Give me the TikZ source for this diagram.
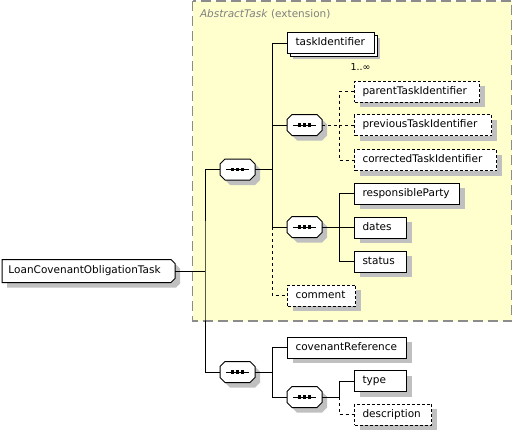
\documentclass[tikz,border=0pt]{standalone}
\usepackage{fontspec}
\setmainfont{DejaVu Sans}
\usetikzlibrary{shadows}
\definecolor{ybg}{RGB}{255,255,206}
\definecolor{shd}{RGB}{192,192,192}
\definecolor{dgray}{RGB}{128,128,128}
\definecolor{bgray}{RGB}{140,140,140}
\makeatletter
\newdimen\oxa \newdimen\oya \newdimen\oxb \newdimen\oyb \newdimen\ocut
\pgfkeys{/pgf/cut size/.initial=4pt}
\def\octinherit{%
  \inheritsavedanchors[from=rectangle]%
  \inheritanchorborder[from=rectangle]%
  \inheritanchor[from=rectangle]{center}%
  \inheritanchor[from=rectangle]{north}%
  \inheritanchor[from=rectangle]{south}%
  \inheritanchor[from=rectangle]{west}%
  \inheritanchor[from=rectangle]{east}%
  \inheritanchor[from=rectangle]{north west}%
  \inheritanchor[from=rectangle]{north east}%
  \inheritanchor[from=rectangle]{south west}%
  \inheritanchor[from=rectangle]{south east}%
  \inheritanchor[from=rectangle]{base}%
  \inheritanchor[from=rectangle]{mid}}
\pgfdeclareshape{octbox}{
  \octinherit
  \backgroundpath{
    \southwest \global\oxa=\pgf@x \global\oya=\pgf@y
    \northeast \global\oxb=\pgf@x \global\oyb=\pgf@y
    \pgfmathsetlength\ocut{\pgfkeysvalueof{/pgf/cut size}}
    \pgfpathmoveto{\pgfqpoint{\dimexpr\oxa+\ocut\relax}{\oya}}
    \pgfpathlineto{\pgfqpoint{\dimexpr\oxb-\ocut\relax}{\oya}}
    \pgfpathlineto{\pgfqpoint{\oxb}{\dimexpr\oya+\ocut\relax}}
    \pgfpathlineto{\pgfqpoint{\oxb}{\dimexpr\oyb-\ocut\relax}}
    \pgfpathlineto{\pgfqpoint{\dimexpr\oxb-\ocut\relax}{\oyb}}
    \pgfpathlineto{\pgfqpoint{\dimexpr\oxa+\ocut\relax}{\oyb}}
    \pgfpathlineto{\pgfqpoint{\oxa}{\dimexpr\oyb-\ocut\relax}}
    \pgfpathlineto{\pgfqpoint{\oxa}{\dimexpr\oya+\ocut\relax}}
    \pgfpathclose
  }
}
\pgfdeclareshape{tagbox}{
  \octinherit
  \backgroundpath{
    \southwest \global\oxa=\pgf@x \global\oya=\pgf@y
    \northeast \global\oxb=\pgf@x \global\oyb=\pgf@y
    \pgfmathsetlength\ocut{\pgfkeysvalueof{/pgf/cut size}}
    \pgfpathmoveto{\pgfqpoint{\oxa}{\oya}}
    \pgfpathlineto{\pgfqpoint{\dimexpr\oxb-\ocut\relax}{\oya}}
    \pgfpathlineto{\pgfqpoint{\oxb}{\dimexpr\oya+\ocut\relax}}
    \pgfpathlineto{\pgfqpoint{\oxb}{\dimexpr\oyb-\ocut\relax}}
    \pgfpathlineto{\pgfqpoint{\dimexpr\oxb-\ocut\relax}{\oyb}}
    \pgfpathlineto{\pgfqpoint{\oxa}{\oyb}}
    \pgfpathclose
  }
}
\makeatother
\begin{document}
\begin{tikzpicture}[x=1pt,y=-1pt,
  font=\fontsize{10.5}{12}\selectfont,
  line width=1pt,
  shdw/.style={drop shadow={shadow xshift=5pt,shadow yshift=-5pt,fill=shd,opacity=1,draw=none}},
  elem/.style={draw, fill=white, shdw, anchor=west, minimum height=21pt,
    inner xsep=8pt, inner ysep=0pt, text width=#1, text height=8pt, text depth=2.5pt},
  opt/.style={elem=#1, dash pattern=on 3pt off 2pt},
  seqbox/.style={octbox, cut size=5pt, draw, fill=white, shdw,
    minimum width=34pt, minimum height=20pt, inner sep=0pt,
    path picture={
      \draw[black, line width=1pt] ([xshift=6pt]path picture bounding box.west) -- ([xshift=-6pt]path picture bounding box.east);
      \foreach \d in {-5,0,5} \fill[black] ([xshift=\d pt]path picture bounding box.center) +(-1.6,-1.6) rectangle +(1.6,1.6);
    }},
  dconn/.style={dash pattern=on 3pt off 3pt}]
\useasboundingbox (0,0) rectangle (513,431);

% extension area
\draw[bgray, line width=1.2pt, fill=ybg, dash pattern=on 10pt off 5pt] (192.5,1) rectangle (511.5,321);
\node[anchor=west, text=dgray, inner sep=0pt] (ext) at (199.5,14) {\textit{AbstractTask} (extension)};

% root
\node[tagbox, cut size=4pt, draw, fill=white, shdw, anchor=west, minimum height=22pt, inner xsep=6pt, inner ysep=0pt,
  text width=160pt, text height=8pt, text depth=2.5pt] (m) at (2,271) {LoanCovenantObligationTask};

% sequences
\node[seqbox] (s1) at (237.5,169.5) {};
\node[seqbox] (s2) at (304.5,125) {};
\node[seqbox] (s3) at (304.5,227) {};
\node[seqbox] (s4) at (237.5,372) {};
\node[seqbox] (s5) at (304.5,397) {};

% elements
\node[elem=71pt, copy shadow={shadow xshift=3pt,shadow yshift=-3pt}] (ti) at (287,43) {taskIdentifier};
\node[anchor=east, inner sep=0pt, font=\fontsize{9.5}{11}\selectfont] (mult) at (371,67.5) {1..∞};
\node[opt=109pt] (pa) at (354,91.5) {parentTaskIdentifier};
\node[opt=121pt] (pr) at (354,125) {previousTaskIdentifier};
\node[opt=126pt] (co) at (354,160) {correctedTaskIdentifier};
\node[elem=89pt] (rp) at (354,193.5) {responsibleParty};
\node[elem=36pt] (da) at (354,227.5) {dates};
\node[elem=36pt] (st) at (354,261.5) {status};
\node[opt=52pt] (cm) at (287,295.5) {comment};
\node[elem=103pt] (cr) at (287,347.5) {covenantReference};
\node[elem=36pt] (ty) at (354,381) {type};
\node[opt=61pt] (de) at (354,414.5) {description};

\coordinate (c205) at (205,0);
\coordinate (c272) at (272,0);
\coordinate (c339) at (339,0);

% connectors
\draw (m.east) -- (m.east -| c205);
\draw (s1.west) -| (m.east -| c205) |- (s4.west);

\draw (s1.east) -- (s1.east -| c272);
\draw (ti.west) -| (s3.west -| c272) -- (s3.west);
\draw (s2.west) -- (s2.west -| c272);
\draw[dconn] (s3.west -| c272) |- (cm.west);

\draw[dconn] (s2.east) -- (s2.east -| c339);
\draw[dconn] (pa.west) -| (co.west -| c339) -- (co.west);
\draw[dconn] (pr.west) -- (pr.west -| c339);

\draw (s3.east) -- (s3.east -| c339);
\draw (rp.west) -| (st.west -| c339) -- (st.west);
\draw (da.west) -- (da.west -| c339);

\draw (s4.east) -- (s4.east -| c272);
\draw (cr.west) -| (s5.west -| c272) -- (s5.west);

\draw (s5.east) -- (s5.east -| c339);
\draw (ty.west) -| (s5.east -| c339);
\draw[dconn] (s5.east -| c339) |- (de.west);
\end{tikzpicture}
\end{document}
